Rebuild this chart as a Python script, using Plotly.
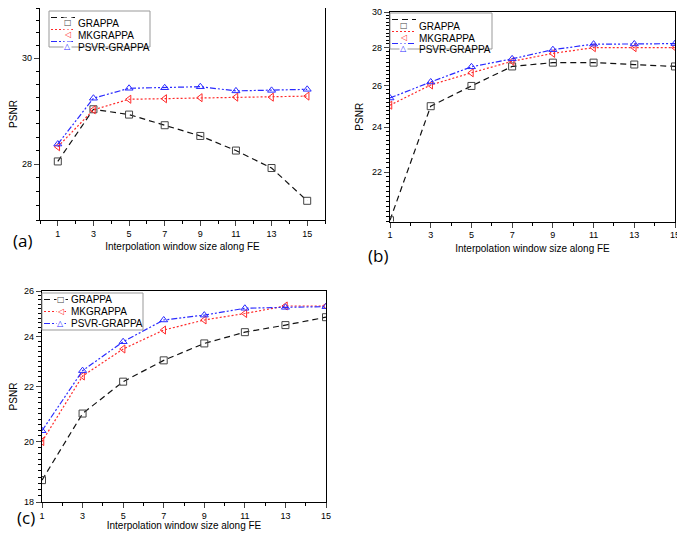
import math
import plotly.graph_objects as go

window = [1, 3, 5, 7, 9, 11, 13, 15]
methods = ["GRAPPA", "MKGRAPPA", "PSVR-GRAPPA"]

# PSNR values
psnr_a = {
    "GRAPPA": [28.05, 29.02, 28.92, 28.72, 28.52, 28.25, 27.93, 27.34],
    "MKGRAPPA": [28.32, 29.01, 29.21, 29.22, 29.24, 29.25, 29.25, 29.27],
    "PSVR-GRAPPA": [28.37, 29.23, 29.42, 29.43, 29.45, 29.37, 29.38, 29.40],
}
psnr_b = {
    "GRAPPA": [20.05, 25.0, 26.0, 27.0, 27.2, 27.2, 27.1, 27.0],
    "MKGRAPPA": [25.05, 26.05, 26.67, 27.27, 27.69, 28.0, 28.0, 28.0],
    "PSVR-GRAPPA": [25.4, 26.2, 26.98, 27.4, 27.89, 28.19, 28.2, 28.22],
}
psnr_c = {
    "GRAPPA": [18.7, 21.0, 22.2, 23.04, 23.73, 24.2, 24.5, 24.84],
    "MKGRAPPA": [20.0, 22.42, 23.5, 24.29, 24.72, 25.0, 25.33, 25.33],
    "PSVR-GRAPPA": [20.38, 22.63, 23.8, 24.72, 24.93, 25.23, 25.27, 25.3],
}

style = {
    "GRAPPA": dict(color="#111111", mcolor="#444444", dash="6px,4px", symbol="square-open", glyph="\u25a1"),
    "MKGRAPPA": dict(color="#ff2a2a", mcolor="#ff2a2a", dash="2px,2px", symbol="triangle-left-open", glyph="\u25c1"),
    "PSVR-GRAPPA": dict(color="#2a2aff", mcolor="#2a2aff", dash="6px,2px,2px,2px,2px,2px", symbol="triangle-up-open", glyph="\u25b3"),
}

# panel: (data, axis suffix, x range, y range, y ticks, minor step)
panels = [
    (psnr_a, "", [0, 16], [27, 31], [28, 30], 0.25),
    (psnr_b, "2", [1, 15], [20, 30], [22, 24, 26, 28, 30], 0.2),
    (psnr_c, "3", [1, 15], [18, 26], [18, 20, 22, 24, 26], 0.2),
]

# the page body has an 8px margin; size the figure so it fits the window
OFF = 8
W, H = 685 - OFF, 539 - 2 * OFF


def px(v):
    return min(max((v - OFF) / W, 0), 1)


def py(v):
    return min(max(1 - (v - OFF) / H, 0), 1)


fig = go.Figure()

for data, ax, xr, yr, yt, mstep in panels:
    for m in methods:
        s = style[m]
        fig.add_trace(go.Scatter(
            x=window, y=data[m], name=m, mode="lines+markers",
            xaxis="x" + ax, yaxis="y" + ax, showlegend=False,
            line=dict(color=s["color"], width=1.2, dash=s["dash"]),
            marker=dict(symbol=s["symbol"], size=7, color=s["mcolor"],
                        line=dict(width=1, color=s["mcolor"])),
        ))

# plot areas in screenshot pixels: (left, right, top, bottom)
boxes = [(40, 325, 8, 220), (390, 675, 12, 221.5), (42, 326, 291, 502)]

layout = dict(
    width=W, height=H,
    margin=dict(l=0, r=0, t=0, b=0, autoexpand=False),
    paper_bgcolor="white", plot_bgcolor="white",
    font=dict(family="Liberation Sans, Arial", color="black", size=9),
    showlegend=False,
)

for i, (data, ax, xr, yr, yt, mstep) in enumerate(panels):
    l, r, t, b = boxes[i]
    xminor = [v for v in range(int(xr[0]), int(xr[1]) + 1) if v % 2 == 0]
    n = int(round((yr[1] - yr[0]) / mstep))
    yminor = [yr[0] + k * mstep for k in range(n + 1)]
    layout["xaxis" + ax] = dict(
        domain=[px(l), px(r)], range=xr, anchor="y" + ax, automargin=False,
        tickvals=window, ticks="outside", ticklen=5, tickwidth=1.2,
        showline=True, linecolor="black", linewidth=1.3, mirror=True,
        showgrid=False, zeroline=False, tickfont=dict(size=9),
        ticklabeloverflow="allow",
        minor=dict(tickvals=xminor, ticks="outside", ticklen=3, tickwidth=1, tickcolor="black"),
        title=dict(text="Interpolation window size along FE", font=dict(size=10), standoff=5),
    )
    layout["yaxis" + ax] = dict(
        domain=[py(b), py(t)], type="log", range=[math.log10(yr[0]), math.log10(yr[1])],
        anchor="x" + ax, automargin=False, tickvals=yt, ticktext=[str(v) for v in yt],
        ticks="outside", ticklen=5, tickwidth=1.2,
        showline=True, linecolor="black", linewidth=1.3, mirror=True,
        showgrid=False, zeroline=False, tickfont=dict(size=9),
        ticklabeloverflow="allow",
        minor=dict(tickvals=yminor, ticks="outside", ticklen=3, tickwidth=1, tickcolor="black"),
        title=dict(text="PSNR", font=dict(size=10), standoff=6),
    )

fig.update_layout(**layout)

# hand-drawn legends (box, line sample, marker glyph, label) at the top-left of each panel
legend_boxes = [(49, 150, 11, 47), (390, 492, 13, 49), (42, 143, 293, 330)]
for lb_l, lb_r, lb_t, lb_b in legend_boxes:
    fig.add_shape(type="rect", xref="paper", yref="paper",
                  x0=px(lb_l), x1=px(lb_r), y0=py(lb_b), y1=py(lb_t),
                  line=dict(color="#999999", width=1), fillcolor="white", layer="above")
    for k, m in enumerate(methods):
        s = style[m]
        ry = lb_t + 6.5 + k * 12
        fig.add_shape(type="line", xref="paper", yref="paper",
                      x0=px(lb_l + 2), x1=px(lb_l + 26), y0=py(ry), y1=py(ry),
                      line=dict(color=s["color"], width=1.2, dash=s["dash"]), layer="above")
        fig.add_annotation(text=s["glyph"], x=px(lb_l + 14), y=py(ry), xref="paper", yref="paper",
                           showarrow=False, bgcolor="white", borderpad=0,
                           font=dict(size=8, color=s["mcolor"], family="DejaVu Sans"))
        fig.add_annotation(text=m, x=px(lb_l + 28), y=py(ry), xref="paper", yref="paper",
                           xanchor="left", showarrow=False, borderpad=0,
                           font=dict(size=10, color="black"))

labels = [("(a)", 11, 240), ("(b)", 378, 255), ("(c)", 15, 534)]
for t, x, y in labels:
    fig.add_annotation(text=t, x=px(x), y=py(y), xref="paper", yref="paper", showarrow=False,
                       font=dict(size=17, family="Open Sans"))

fig.write_html("out.html")
